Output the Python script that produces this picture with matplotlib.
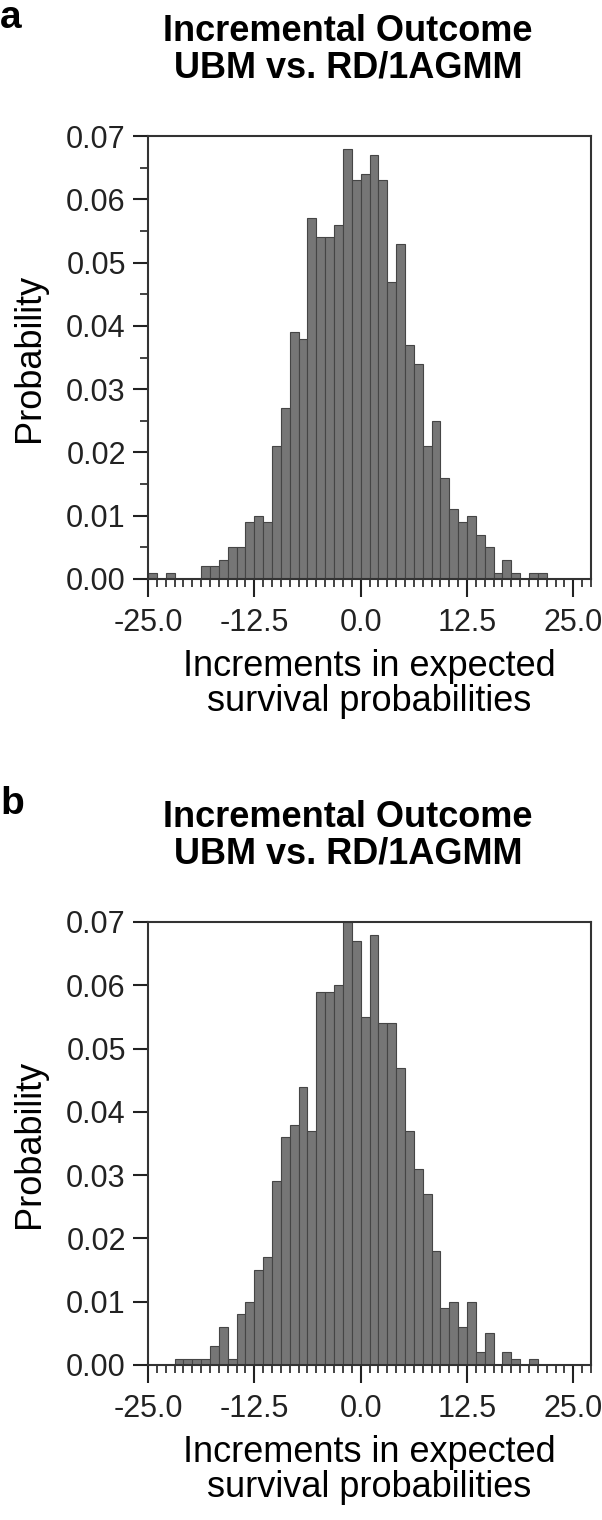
import numpy as np
import matplotlib

matplotlib.use("Agg")
import matplotlib.pyplot as plt
from matplotlib.ticker import MultipleLocator

plt.rcParams["font.family"] = ["Liberation Sans", "DejaVu Sans"]

# histogram bins: 50 bins of width 12.5/12 starting at -25
bin_start = -25.0
bin_width = 12.5 / 12
n_bins = 50

# probability per bin, panel a
prob_a = [0.001, 0.000, 0.001, 0.000, 0.000, 0.000, 0.002, 0.002, 0.003, 0.005,
          0.005, 0.009, 0.010, 0.009, 0.021, 0.027, 0.039, 0.038, 0.057, 0.054,
          0.054, 0.056, 0.068, 0.063, 0.064, 0.067, 0.063, 0.047, 0.053, 0.037,
          0.034, 0.021, 0.025, 0.016, 0.011, 0.009, 0.010, 0.007, 0.005, 0.001,
          0.003, 0.001, 0.000, 0.001, 0.001, 0.000, 0.000, 0.000, 0.000, 0.000]

# probability per bin, panel b
prob_b = [0.000, 0.000, 0.000, 0.001, 0.001, 0.001, 0.001, 0.003, 0.006, 0.001,
          0.008, 0.010, 0.015, 0.017, 0.029, 0.036, 0.038, 0.044, 0.037, 0.059,
          0.059, 0.060, 0.070, 0.067, 0.055, 0.068, 0.054, 0.054, 0.047, 0.037,
          0.031, 0.027, 0.018, 0.009, 0.010, 0.006, 0.010, 0.002, 0.005, 0.000,
          0.002, 0.001, 0.000, 0.001, 0.000, 0.000, 0.000, 0.000, 0.000, 0.000]

x_ticks = [-25.0, -12.5, 0.0, 12.5, 25.0]
y_ticks = [0.00, 0.01, 0.02, 0.03, 0.04, 0.05, 0.06, 0.07]
title = "Incremental Outcome\nUBM vs. RD/1AGMM"
xlabel = "Increments in expected\nsurvival probabilities"

W, H = 602, 1520
fig = plt.figure(figsize=(W / 100, H / 100), dpi=100)

edges = bin_start + bin_width * np.arange(n_bins + 1)


def draw_panel(top_px, probs, letter, minor_y):
    rect = [148 / W, 1 - (top_px + 443) / H, 443 / W, 443 / H]
    ax = fig.add_axes(rect)
    ax.hist(edges[:-1], bins=edges, weights=probs, color="#767676",
            edgecolor="#454545", linewidth=0.8)
    ax.set_xlim(edges[0], edges[-1])
    ax.set_ylim(0, 0.07)
    ax.set_xticks(x_ticks)
    ax.set_xticklabels([f"{v:.1f}" for v in x_ticks])
    ax.xaxis.set_minor_locator(MultipleLocator(bin_width))
    ax.set_yticks(y_ticks)
    ax.set_yticklabels([f"{v:.2f}" for v in y_ticks])
    if minor_y:
        ax.yaxis.set_minor_locator(MultipleLocator(0.005))
    ax.tick_params(axis="both", which="major", direction="out", length=11,
                   width=1.5, labelsize=22, colors="#222222")
    ax.tick_params(axis="both", which="minor", direction="out", length=6,
                   width=1.2, colors="#222222")
    ax.tick_params(axis="x", which="major", length=13, pad=8)
    ax.tick_params(axis="y", which="major", pad=5)
    for sp in ax.spines.values():
        sp.set_linewidth(1.5)
        sp.set_color("#333333")
    ax.set_ylabel("Probability", fontsize=26, labelpad=14)
    ax.set_xlabel(xlabel, fontsize=26, labelpad=8, linespacing=1.0)
    fig.text(348 / W, 1 - (top_px - 122) / H, title, ha="center", va="top",
             fontsize=26, fontweight="bold", linespacing=1.05)
    fig.text(0.0, 1 - (top_px - 136) / H, letter, ha="left", va="top",
             fontsize=28, fontweight="bold")
    return ax


draw_panel(136, prob_a, "a", True)
draw_panel(922, prob_b, "b", False)

fig.savefig("out.png", dpi=100, facecolor="white")
